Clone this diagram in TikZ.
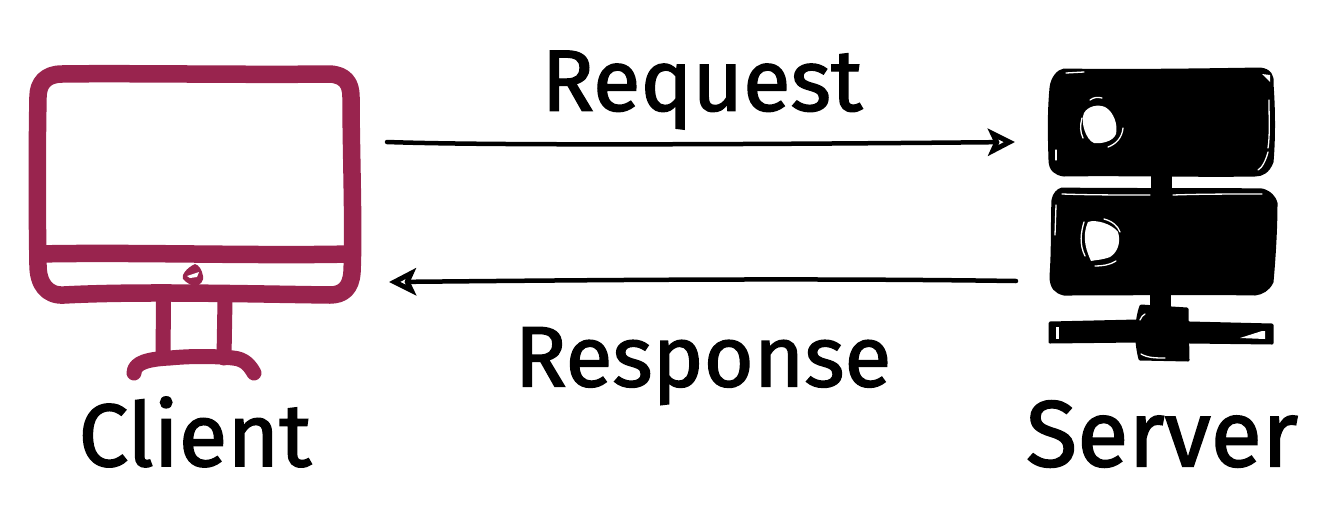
\documentclass[tikz,border=0pt]{standalone}
\usepackage{fontspec}
\setmainfont[FakeBold=1.6]{Fira Sans}
\usetikzlibrary{arrows.meta}
\definecolor{mon}{RGB}{153,36,78}
\tikzset{
  x=1pt,y=-1pt,
  monline/.style={draw=mon,line width=17.5pt,line cap=round,line join=round},
  monthin/.style={draw=mon,line width=15pt,line cap=round,line join=round},
  srv/.style={fill=black,draw=black,line width=3pt,line join=round},
  sliver/.style={draw=white,line width=1.3pt,line cap=round},
  lab/.style={inner sep=0pt,text=black},
  flow/.style={draw=black,line width=4.5pt,line cap=round,-{Stealth[open,length=27pt,width=27pt,inset=6pt,line width=5pt]}},
}
\begin{document}
\begin{tikzpicture}
\useasboundingbox (0,0) rectangle (1341,504);
% monitor
\draw[monline] (62,74) .. controls (120,73) and (250,75) .. (330,74)
  .. controls (345,75) and (351,83) .. (351,97)
  .. controls (351,150) and (354,230) .. (352,272)
  .. controls (351,288) and (343,295) .. (330,295)
  .. controls (250,294) and (140,291) .. (64,295)
  .. controls (47,296) and (38,284) .. (38,265)
  .. controls (37,210) and (37,150) .. (38,97)
  .. controls (38,83) and (46,74) .. (62,74) -- cycle;
\draw[monline] (38,254) .. controls (130,252) and (260,256) .. (350,254);
\fill[mon] (195,264) .. controls (186,268) and (181,276) .. (183,279)
  .. controls (186,283) and (192,285) .. (195,287) .. controls (201,284) and (204,281) .. (203,276)
  .. controls (202,270) and (199,265) .. (195,264) -- cycle;
\fill[white] (187,276) -- (199,272) -- (197,277) -- (190,278) -- cycle;
\draw[monthin] (163.5,300) -- (163,358);
\draw[monthin] (225,300) -- (224,358);
\draw[monthin] (134,373) .. controls (134,362) and (150,359) .. (170,358)
  .. controls (190,356) and (215,356) .. (233,358) .. controls (245,359) and (250,366) .. (254,373);
% server
\draw[srv] (1064,70) .. controls (1120,71) and (1200,70) .. (1260,69) .. controls (1270,70) and (1273,76) .. (1272,84)
  .. controls (1274,110) and (1274,140) .. (1272,162) .. controls (1268,172) and (1262,175) .. (1255,175)
  .. controls (1200,176) and (1120,174) .. (1064,175) .. controls (1056,174) and (1050,170) .. (1050,160)
  .. controls (1049,130) and (1049,110) .. (1051,88) .. controls (1052,78) and (1058,71) .. (1064,70) -- cycle;
\draw[srv] (1062,189) .. controls (1120,190) and (1200,189) .. (1262,190) .. controls (1270,192) and (1275,198) .. (1276,203)
  .. controls (1276,230) and (1274,260) .. (1272,282) .. controls (1268,290) and (1262,293) .. (1255,294)
  .. controls (1200,293) and (1120,294) .. (1064,294) .. controls (1056,292) and (1051,288) .. (1051,276)
  .. controls (1053,250) and (1052,220) .. (1053,200) .. controls (1054,194) and (1058,190) .. (1062,189) -- cycle;
\fill[black] (1151,170) rectangle (1172,192);
\fill[black] (1150,290) rectangle (1171,312);
\draw[srv] (1050,323) -- (1137,321) -- (1190,323) -- (1272,325) -- (1272,343) -- (1190,342) -- (1137,341) -- (1050,342) -- cycle;
\draw[srv] (1141,306) -- (1187,309) -- (1188,360) -- (1140,359) .. controls (1135,340) and (1136,320) .. (1141,306) -- cycle;
\fill[white] (1084,113) .. controls (1088,106) and (1098,104) .. (1105,107) .. controls (1114,112) and (1118,125) .. (1116,134)
  .. controls (1113,142) and (1100,144) .. (1094,143) .. controls (1086,140) and (1080,122) .. (1084,113) -- cycle;
\fill[white] (1088,222) .. controls (1096,219) and (1112,224) .. (1118,232) .. controls (1121,242) and (1118,252) .. (1110,257)
  .. controls (1102,260) and (1095,260) .. (1091,261) .. controls (1087,252) and (1081,238) .. (1088,222) -- cycle;
\fill[white] (1262,74) -- (1270,75) -- (1270,82) -- cycle;
\fill[white] (1056,327) -- (1059,327) -- (1059,339) -- (1056,339) -- cycle;
\fill[white] (1262,331) -- (1265,331) -- (1265,339) -- (1240,338) -- cycle;
% sketch slivers
\draw[sliver] (1090,100) .. controls (1094,97) and (1098,97) .. (1102,98);
\draw[sliver] (1082,118) .. controls (1080,125) and (1080,132) .. (1083,138);
\draw[sliver] (1123,128) .. controls (1122,138) and (1116,144) .. (1108,147);
\draw[sliver] (1084,222) .. controls (1081,232) and (1079,244) .. (1085,256);
\draw[sliver] (1104,219) .. controls (1112,221) and (1118,226) .. (1120,232);
\draw[sliver] (1095,266) .. controls (1102,266) and (1110,265) .. (1116,261);
\draw[sliver] (1066,73) -- (1084,72);
\draw[sliver] (1269,100) .. controls (1269,120) and (1270,135) .. (1268,148);
\draw[sliver] (1268,152) .. controls (1266,160) and (1262,168) .. (1258,170);
\draw[sliver] (1056,150) -- (1056,160);
\draw[sliver] (1062,194) .. controls (1090,195) and (1120,195) .. (1150,195);
\draw[sliver] (1173,195) .. controls (1200,194) and (1235,194) .. (1262,194);
\draw[sliver] (1056,205) -- (1055,235);
\draw[sliver] (1140,320) .. controls (1141,317) and (1143,315) .. (1145,314);
\draw[sliver] (1141,354) .. controls (1148,358) and (1156,358) .. (1165,358);
% named anchors
\coordinate (reqS) at (387,142);
\coordinate (reqE) at (1015,142);
\coordinate (resS) at (1016,281);
\coordinate (resE) at (389,282);
\draw[flow] (reqS) .. controls (500,146) and (800,144) .. (reqE);
\draw[flow] (resS) .. controls (800,278) and (600,280) .. (resE);
% labels
\node[lab,font=\fontsize{87pt}{87pt}\selectfont] (reqlab) at (702,90) {Request};
\node[lab,font=\fontsize{86pt}{86pt}\selectfont] (reslab) at (703,366) {Response};
\node[lab,font=\fontsize{89pt}{89pt}\selectfont] (clilab) at (195,432) {Client};
\node[lab,font=\fontsize{94pt}{94pt}\selectfont] (srvlab) at (1162,434) {Server};
\end{tikzpicture}
\end{document}
